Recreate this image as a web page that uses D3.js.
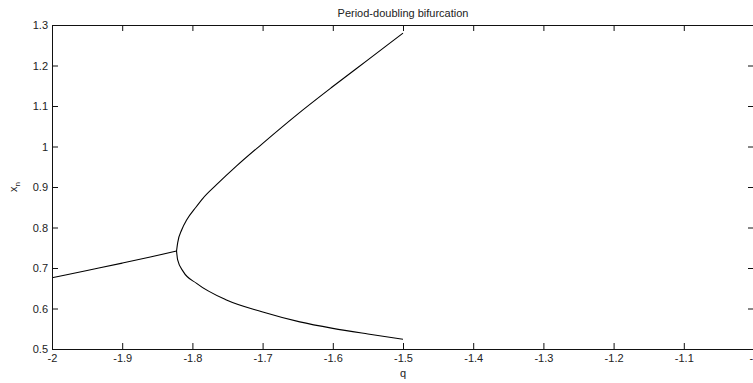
<!DOCTYPE html>
<html>
<head>
<meta charset="utf-8">
<script src="https://cdn.jsdelivr.net/npm/d3@7"></script>
<style>
  body { margin: 0; background: #fff; }
  svg text { font-family: "Liberation Sans", Arial, sans-serif; fill: #222; }
</style>
</head>
<body>
<div id="plot"></div>
<script>
// data
var stableQ   = [-2, -1.95, -1.9, -1.86, -1.8226];
var stableX   = [0.676, 0.694, 0.712, 0.727, 0.742];
var upperQ    = [-1.8226, -1.821, -1.815, -1.808, -1.795, -1.785, -1.766, -1.737, -1.701, -1.650, -1.600, -1.550, -1.500];
var upperX    = [0.742, 0.762, 0.795, 0.819, 0.850, 0.872, 0.905, 0.952, 1.006, 1.080, 1.148, 1.214, 1.280];
var lowerQ    = [-1.8226, -1.821, -1.813, -1.794, -1.7515, -1.701, -1.647, -1.600, -1.550, -1.500];
var lowerX    = [0.742, 0.720, 0.691, 0.662, 0.621, 0.592, 0.567, 0.551, 0.537, 0.524];
var xTicks    = [-2, -1.9, -1.8, -1.7, -1.6, -1.5, -1.4, -1.3, -1.2, -1.1, -1];
var yTicks    = [0.5, 0.6, 0.7, 0.8, 0.9, 1, 1.1, 1.2, 1.3];

var W = 753, H = 383;
var mLeft = 52, mRight = 754, mTop = 25, mBottom = 349;
var tick = 6;

var svg = d3.select("#plot").append("svg")
    .attr("width", W)
    .attr("height", H);

var x = d3.scaleLinear().domain([-2, -1]).range([mLeft, mRight]);
var y = d3.scaleLinear().domain([0.5, 1.3]).range([mBottom, mTop]);

// plot curves
var line = d3.line()
    .x(function(d) { return x(d[0]); })
    .y(function(d) { return y(d[1]); })
    .curve(d3.curveMonotoneX);

[[stableQ, stableX], [upperQ, upperX], [lowerQ, lowerX]].forEach(function(s) {
  svg.append("path")
     .datum(d3.zip(s[0], s[1]))
     .attr("d", line)
     .attr("fill", "none")
     .attr("stroke", "#000")
     .attr("stroke-width", 1.1);
});

// axes, matlab style box with inner ticks
var fmt = function(d) { return String(+d.toFixed(1)); };
svg.append("g").attr("transform", "translate(0," + mBottom + ")")
   .call(d3.axisBottom(x).tickValues(xTicks).tickSize(-tick).tickPadding(5).tickFormat(fmt));
svg.append("g").attr("transform", "translate(0," + mTop + ")")
   .call(d3.axisTop(x).tickValues(xTicks).tickSize(-tick).tickFormat(""));
svg.append("g").attr("transform", "translate(" + mLeft + ",0)")
   .call(d3.axisLeft(y).tickValues(yTicks).tickSize(-tick).tickPadding(4).tickFormat(fmt));
svg.append("g").attr("transform", "translate(" + mRight + ",0)")
   .call(d3.axisRight(y).tickValues(yTicks).tickSize(-tick).tickFormat(""));

svg.selectAll(".domain, .tick line").attr("stroke", "#111");
svg.selectAll(".tick text").attr("font-size", 11).attr("fill", "#222");

// title and labels
svg.append("text")
   .attr("x", (mLeft + mRight) / 2)
   .attr("y", 17)
   .attr("font-size", 11)
   .style("text-anchor", "middle")
   .text("Period-doubling bifurcation");

svg.append("text")
   .attr("x", (mLeft + mRight) / 2)
   .attr("y", 377)
   .attr("font-size", 11)
   .style("text-anchor", "middle")
   .text("q");

var yl = svg.append("text")
   .attr("transform", "translate(17," + (mTop + mBottom) / 2 + ") rotate(-90)")
   .attr("font-size", 11)
   .style("text-anchor", "middle");
yl.append("tspan").text("x");
yl.append("tspan").attr("font-size", 8).attr("dy", 3).text("n");
</script>
</body>
</html>
